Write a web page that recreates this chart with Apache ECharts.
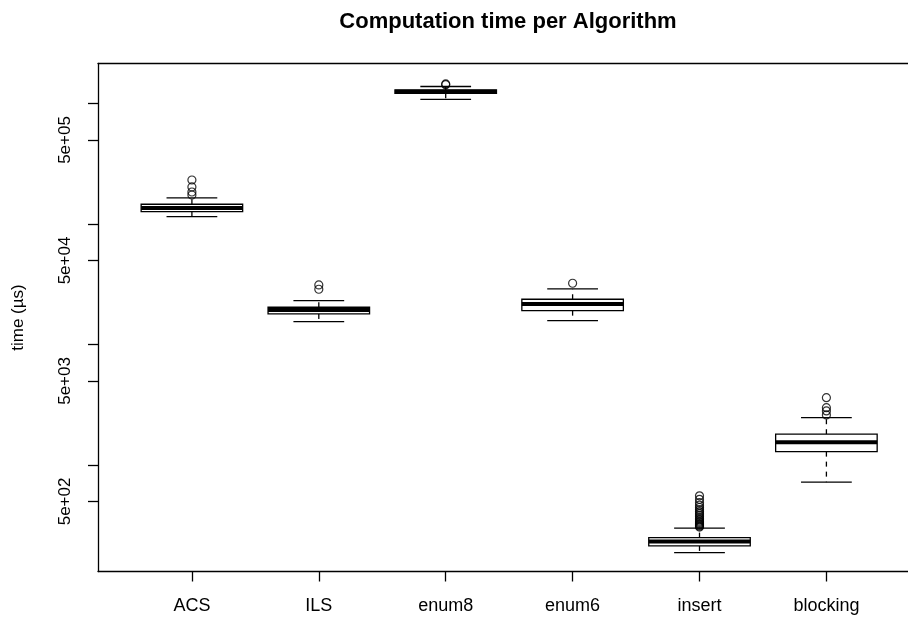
<!DOCTYPE html>
<html>
<head>
<meta charset="utf-8">
<title>Computation time per Algorithm</title>
<script src="https://cdn.jsdelivr.net/npm/echarts@6/dist/echarts.min.js"></script>
<style>
  html, body { margin: 0; padding: 0; background: #fff; }
  #chart { width: 908px; height: 617px; }
</style>
</head>
<body>
<div id="chart"></div>
<script>
// 数据 (µs)
var algorithms = ['ACS', 'ILS', 'enum8', 'enum6', 'insert', 'blocking'];
var whiskerLow  = [115500, 15520, 1088000, 15830, 188, 722];
var quartile1   = [127000, 17990, 1221000, 19160, 213.6, 1295];
var medians     = [136300, 19420, 1258000, 21780, 232, 1550];
var quartile3   = [146400, 20450, 1300000, 23820, 250.4, 1806];
var whiskerHigh = [165100, 23200, 1390000, 29010, 299.7, 2480];
var outliers = [
  [232800, 203700, 185100, 174800],
  [31300, 28840],
  [1440000, 1460000],
  [32350],
  [556, 520, 490, 465, 445, 428, 412, 398, 385, 373, 362, 352, 343, 335, 328, 322, 316, 311, 306],
  [3634, 3002, 2818, 2612]
];
var yTicks  = [500, 1000, 5000, 10000, 50000, 100000, 500000, 1000000];
var yLabels = [500, 5000, 50000, 500000];
var yMin = 131, yMax = 2157000;
// x range: plot region runs past the right edge of the picture
var xMin = 0.26, xMax = 6.643;

var FONT = '"Liberation Sans", Arial, sans-serif';

function sci(v) {
  var e = Math.floor(Math.log10(v) + 1e-9);
  var m = Math.round(v / Math.pow(10, e));
  return m + 'e+' + (e < 10 ? '0' + e : e);
}

// box data: [x, low, q1, med, q3, high]
var boxData = algorithms.map(function (name, i) {
  return [i + 1, whiskerLow[i], quartile1[i], medians[i], quartile3[i], whiskerHigh[i]];
});
var outlierData = [];
outliers.forEach(function (list, i) {
  list.forEach(function (v) { outlierData.push([i + 1, v]); });
});

function renderBox(params, api) {
  var x = api.value(0);
  var pLo = api.coord([x, api.value(1)]);
  var pQ1 = api.coord([x, api.value(2)]);
  var pMed = api.coord([x, api.value(3)]);
  var pQ3 = api.coord([x, api.value(4)]);
  var pHi = api.coord([x, api.value(5)]);
  var cx = pMed[0];
  var half = api.coord([x + 0.4, api.value(3)])[0] - cx;
  var staple = half / 2;
  var solid = { stroke: '#000', lineWidth: 1.3 };
  var dashed = { stroke: '#000', lineWidth: 1.3, lineDash: [5, 5] };
  return {
    type: 'group',
    children: [
      { type: 'line', shape: { x1: cx, y1: pQ3[1], x2: cx, y2: pHi[1] }, style: dashed },
      { type: 'line', shape: { x1: cx, y1: pQ1[1], x2: cx, y2: pLo[1] }, style: dashed },
      { type: 'line', shape: { x1: cx - staple, y1: pHi[1], x2: cx + staple, y2: pHi[1] }, style: solid },
      { type: 'line', shape: { x1: cx - staple, y1: pLo[1], x2: cx + staple, y2: pLo[1] }, style: solid },
      { type: 'rect', shape: { x: cx - half, y: pQ3[1], width: 2 * half, height: pQ1[1] - pQ3[1] },
        style: { fill: '#fff', stroke: '#000', lineWidth: 1.3 } },
      { type: 'line', shape: { x1: cx - half, y1: pMed[1], x2: cx + half, y2: pMed[1] },
        style: { stroke: '#000', lineWidth: 4 } }
    ]
  };
}

var myChart = echarts.init(document.getElementById('chart'));

var axisLine = { show: true, lineStyle: { color: '#000', width: 1.3 } };

var option = {
  animation: false,
  backgroundColor: '#fff',
  title: {
    text: 'Computation time per Algorithm',
    left: 503,
    textAlign: 'center',
    top: 6,
    textStyle: { fontFamily: FONT, fontSize: 22, fontWeight: 'bold', color: '#000' }
  },
  grid: {
    left: 98,
    top: 63.5,
    right: 0,
    bottom: 45.5
  },
  xAxis: [{
    type: 'value',
    min: xMin,
    max: xMax,
    axisLine: axisLine,
    splitLine: { show: false },
    axisTick: {
      show: true,
      customValues: [1, 2, 3, 4, 5, 6],
      length: 10,
      lineStyle: { color: '#000', width: 1.3 }
    },
    axisLabel: {
      customValues: [1, 2, 3, 4, 5, 6],
      formatter: function (v) { return algorithms[Math.round(v) - 1]; },
      margin: 26,
      fontFamily: FONT,
      fontSize: 18,
      color: '#000'
    }
  }, {
    // top border of the plot box
    type: 'value',
    position: 'top',
    min: xMin,
    max: xMax,
    axisLine: axisLine,
    axisTick: { show: false },
    axisLabel: { show: false },
    splitLine: { show: false }
  }],
  yAxis: [{
    type: 'log',
    logBase: 10,
    min: yMin,
    max: yMax,
    axisLine: { show: false },
    axisTick: { show: false },
    axisLabel: { show: false },
    splitLine: { show: false }
  }, {
    type: 'value',
    position: 'left',
    min: Math.log10(yMin),
    max: Math.log10(yMax),
    axisLine: axisLine,
    splitLine: { show: false },
    axisTick: {
      show: true,
      customValues: yTicks.map(function (v) { return Math.log10(v); }),
      length: 10,
      lineStyle: { color: '#000', width: 1.3 }
    },
    axisLabel: {
      customValues: yLabels.map(function (v) { return Math.log10(v); }),
      formatter: function (v) { return sci(Math.pow(10, v)); },
      rotate: 90,
      margin: 24,
      fontFamily: FONT,
      fontSize: 17,
      color: '#000'
    },
    name: 'time (µs)',
    nameLocation: 'middle',
    nameGap: 71,
    nameTextStyle: { fontFamily: FONT, fontSize: 17, color: '#000' }
  }],
  series: [{
    type: 'custom',
    xAxisIndex: 0,
    yAxisIndex: 0,
    renderItem: renderBox,
    data: boxData,
    encode: { x: 0, y: [1, 2, 3, 4, 5] },
    z: 2
  }, {
    type: 'scatter',
    xAxisIndex: 0,
    yAxisIndex: 0,
    symbol: 'circle',
    symbolSize: 8,
    itemStyle: { color: 'transparent', borderColor: '#000', borderWidth: 1.2 },
    data: outlierData,
    z: 3
  }]
};

myChart.setOption(option);
</script>
</body>
</html>
